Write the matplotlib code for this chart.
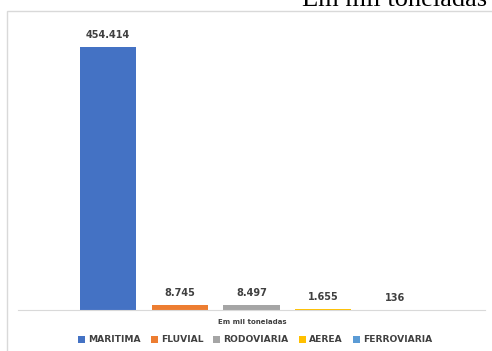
import matplotlib
matplotlib.use("Agg")
import matplotlib.pyplot as plt
from matplotlib.patches import Rectangle, Patch

categories = ["MARITIMA", "FLUVIAL", "RODOVIARIA", "AEREA", "FERROVIARIA"]
values = [454414, 8745, 8497, 1655, 136]
labels = ["454.414", "8.745", "8.497", "1.655", "136"]
colors = ["#4472C4", "#ED7D31", "#A5A5A5", "#FFC000", "#5B9BD5"]

W, H = 492, 351
fig = plt.figure(figsize=(W / 100, H / 100), dpi=100)
fig.patch.set_facecolor("white")

# chart border
fig.patches.append(Rectangle((7 / W, -0.1), 1.0, (H - 11) / H + 0.1,
                             transform=fig.transFigure, fill=False,
                             edgecolor="#D9D9D9", linewidth=1.0))

ax = fig.add_axes([18 / W, (H - 310) / H, (485 - 18) / W, (310 - 21) / H])
x = list(range(len(categories)))
bars = ax.bar(x, values, width=0.78, color=colors)
ax.set_xlim(-1.25, 5.25)
ax.set_ylim(0, 500000)
for s in ["top", "right", "left"]:
    ax.spines[s].set_visible(False)
ax.spines["bottom"].set_color("#D9D9D9")
ax.set_xticks([])
ax.set_yticks([])
ax.set_facecolor("none")

for xi, v, lab in zip(x, values, labels):
    ax.annotate(lab, (xi, v), xytext=(0, 5), textcoords="offset points",
                ha="center", va="bottom", fontsize=7, fontweight="bold",
                color="#404040")

fig.text(252 / W, 1 - 322 / H, "Em mil toneladas", ha="center", va="center",
         fontsize=5, fontweight="bold", color="#404040")

handles = [Patch(facecolor=c, edgecolor="none") for c in colors]
leg = fig.legend(handles, categories, loc="center", bbox_to_anchor=(255 / W, 1 - 340 / H),
                 ncol=5, frameon=False, handlelength=0.75, handleheight=0.75,
                 handletextpad=0.35, columnspacing=1.1,
                 prop={"weight": "semibold", "size": 6.6})
for t in leg.get_texts():
    t.set_color("#404040")

fig.text(487 / W, 1 - 6 / H, "Em mil toneladas", ha="right", va="baseline",
         fontsize=19, family="Liberation Serif", color="black")

fig.savefig("out.png", dpi=100)
